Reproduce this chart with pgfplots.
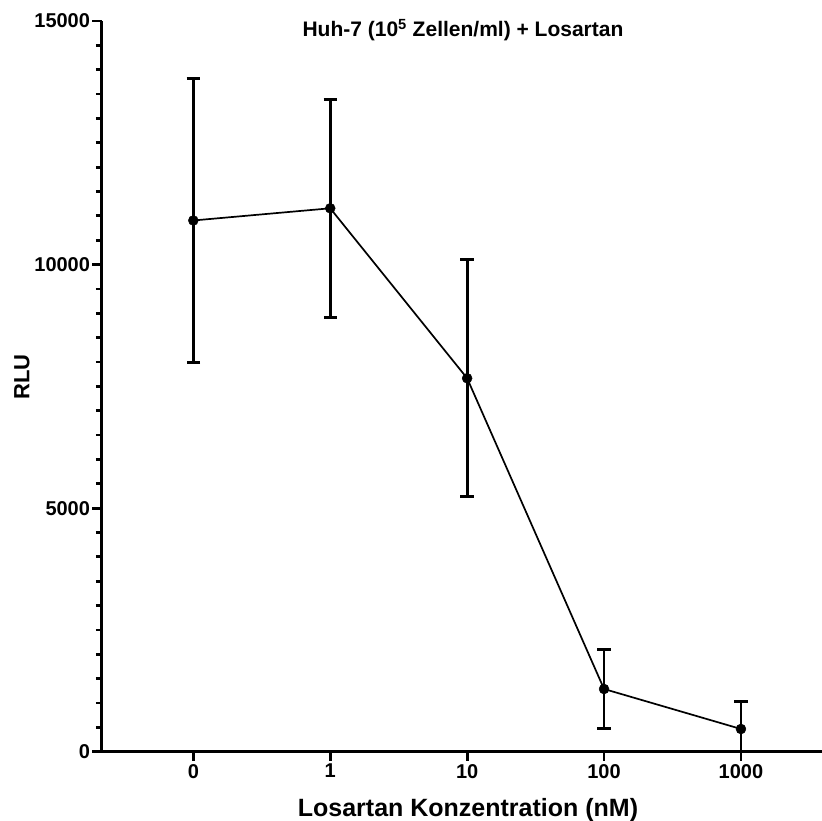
\documentclass[border=0pt]{standalone}
\usepackage{fontspec}
\setmainfont{Liberation Sans}
\usepackage{pgfplots}
\pgfplotsset{compat=1.18}
\newcommand\tickfont{\fontsize{20}{20}\selectfont\bfseries}
\begin{document}
\begin{tikzpicture}
\path[use as bounding box] (0,0) rectangle (822pt,821pt);
\begin{axis}[
  at={(101.5pt,69.3pt)}, anchor=south west,
  scale only axis, width=720.5pt, height=730.7pt,
  xmin=-0.6706, xmax=4.592, ymin=0, ymax=15000,
  axis x line*=bottom, axis y line*=left,
  axis line style={line width=2.8pt, black},
  major tick style={line width=2.8pt, black},
  minor tick style={line width=2.8pt, black},
  tick align=outside,
  major tick length=9.3pt, minor tick length=5.7pt,
  xtick={0,1,2,3,4},
  xticklabels={\tickfont 0,\tickfont 1,\tickfont 10,\tickfont 100,\tickfont 1000},
  ytick={0,5000,10000,15000},
  yticklabels={\tickfont 0,\tickfont 5000,\tickfont 10000,\tickfont 15000},
  minor y tick num=9,
  xticklabel style={inner sep=2pt, yshift=-1pt},
  yticklabel style={inner sep=2pt},
  xlabel={Losartan Konzentration (nM)},
  xlabel style={font=\bfseries\fontsize{25}{25}\selectfont,
    at={(axis description cs:0.5087,-0.0798)}, anchor=center},
  ylabel={RLU},
  ylabel style={font=\bfseries\fontsize{22}{22}\selectfont,
    at={(axis description cs:-0.1103,0.513)}, anchor=center},
  title={Huh-7 (10\textsuperscript{5} Zellen/ml) + Losartan},
  title style={font=\bfseries\fontsize{21}{21}\selectfont,
    at={(axis description cs:0.5017,0.9703)}, anchor=base},
]
\addplot[black, line width=1.7pt, mark=*, mark size=5pt,
  mark options={solid, line width=0.4pt},
  error bars/.cd, y dir=both, y explicit,
  error bar style={line width=2.8pt},
  error mark options={rotate=90, mark size=6.7pt, line width=2.8pt}]
coordinates {
  (0,10905) +- (0,2920)
  (1,11155) +- (0,2237)
  (2,7666) +- (0,2430)
  (3,1287) +- (0,810)
  (4,466) += (0,561) -= (0,466)
};
\end{axis}
\end{tikzpicture}
\end{document}
